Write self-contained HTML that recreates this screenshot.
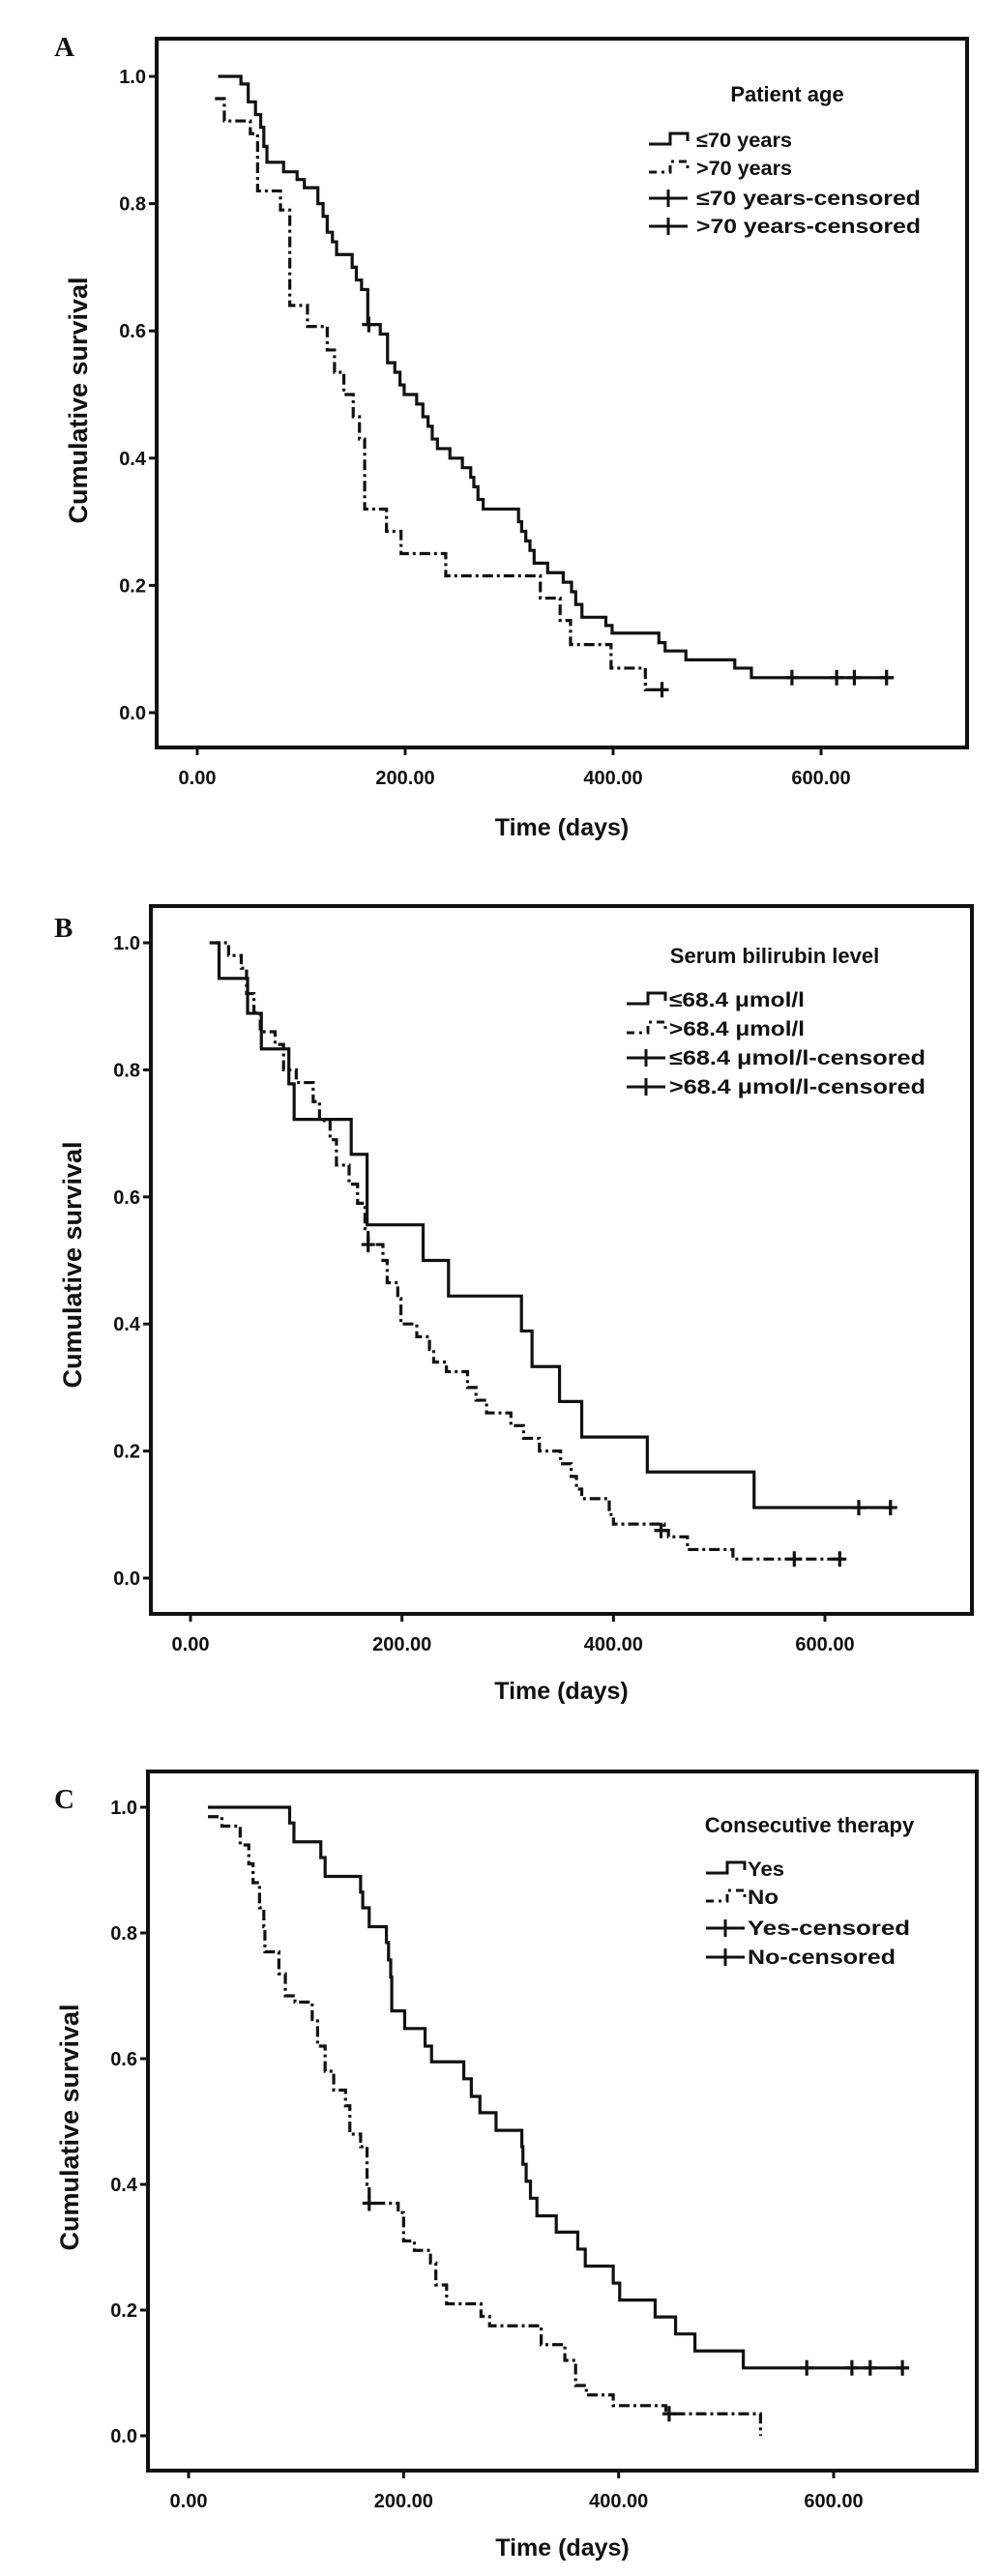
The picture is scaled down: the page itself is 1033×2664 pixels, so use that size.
<!DOCTYPE html>
<html><head><meta charset="utf-8"><style>
html,body{margin:0;padding:0;background:#fff;}
svg{display:block;}
text{font-family:"Liberation Sans",sans-serif;font-weight:bold;fill:#111;}
.letter{font-family:"Liberation Serif",serif;font-size:29px;}
</style></head><body>
<svg id="fig" width="1033" height="2664" viewBox="0 0 1033 2664" xmlns="http://www.w3.org/2000/svg"></svg>
<script>
// Panel A data
const aSolidTimes=[20,42,49,56,61,64,67,83,96,103,116,121,125,130,134,149,153,158,164,176,183,190,195,199,211,217,222,226,231,243,255,263,266,270,275,309,312,316,320,324,337,352,360,364,370,393,399,444,450,470,517,533,670];
const aSolidSurv=[1.0,0.988,0.96,0.94,0.92,0.89,0.865,0.85,0.838,0.825,0.80,0.78,0.755,0.74,0.72,0.70,0.68,0.665,0.61,0.595,0.55,0.535,0.515,0.50,0.485,0.465,0.45,0.43,0.415,0.40,0.385,0.37,0.355,0.335,0.32,0.30,0.285,0.27,0.255,0.235,0.22,0.205,0.19,0.17,0.15,0.137,0.125,0.11,0.097,0.083,0.07,0.055,0.055];
const aSolidCensT=[165,572,615,632,663];
const aSolidCensS=[0.61,0.055,0.055,0.055,0.055];
const aDashTimes=[17,26,51,58,80,89,106,125,132,141,150,156,161,182,196,239,330,349,359,398,431,447];
const aDashSurv=[0.965,0.93,0.91,0.82,0.79,0.64,0.607,0.57,0.535,0.50,0.465,0.43,0.32,0.285,0.25,0.215,0.18,0.145,0.107,0.07,0.036,0.036];
const aDashCensT=[447];
const aDashCensS=[0.036];
// Panel B data
const bSolidTimes=[24,27,54,67,93,98,152,167,220,244,313,323,349,370,432,533,664];
const bSolidSurv=[1.0,0.944,0.889,0.833,0.778,0.722,0.667,0.556,0.50,0.444,0.389,0.333,0.278,0.222,0.167,0.111,0.111];
const bSolidCensT=[632,662];
const bSolidCensS=[0.111,0.111];
const bDashTimes=[18,36,48,53,60,66,80,88,100,116,122,132,138,150,158,165,168,182,186,196,199,214,226,230,242,262,270,280,303,315,330,350,360,365,370,396,400,448,452,470,513,618];
const bDashSurv=[1.0,0.98,0.96,0.92,0.89,0.86,0.84,0.80,0.78,0.75,0.72,0.69,0.65,0.62,0.59,0.55,0.525,0.50,0.465,0.44,0.40,0.38,0.36,0.34,0.325,0.30,0.28,0.26,0.24,0.22,0.20,0.18,0.16,0.14,0.125,0.10,0.085,0.075,0.065,0.045,0.03,0.03];
const bDashCensT=[168,445,571,614];
const bDashCensS=[0.525,0.075,0.03,0.03];
// Panel C data
const cSolidTimes=[18,94,98,123,127,160,162,168,184,186,188,189,201,220,226,256,263,271,286,310,311,314,318,324,342,362,369,395,401,434,453,471,516,670];
const cSolidSurv=[1.0,0.975,0.945,0.92,0.89,0.865,0.84,0.81,0.785,0.757,0.73,0.676,0.648,0.62,0.595,0.568,0.54,0.514,0.486,0.46,0.432,0.405,0.378,0.35,0.324,0.297,0.27,0.243,0.216,0.189,0.162,0.135,0.108,0.108];
const cSolidCensT=[575,617,634,664];
const cSolidCensS=[0.108,0.108,0.108,0.108];
const cDashTimes=[18,31,48,56,60,66,70,71,84,90,99,115,120,127,135,146,150,160,166,168,195,200,210,225,230,240,272,280,328,350,360,370,395,444,532,532];
const cDashSurv=[0.985,0.97,0.94,0.91,0.88,0.84,0.81,0.77,0.735,0.70,0.69,0.66,0.62,0.58,0.55,0.525,0.48,0.46,0.40,0.37,0.355,0.31,0.295,0.275,0.24,0.21,0.19,0.175,0.145,0.12,0.08,0.065,0.048,0.035,0.035,0.0];
const cDashCensT=[168,447];
const cDashCensS=[0.37,0.035];
// Axis ticks
const xTicks=[0,200,400,600];
const xTickLabels=["0.00","200.00","400.00","600.00"];
const yTicks=[0,0.2,0.4,0.6,0.8,1.0];
const yTickLabels=["0.0","0.2","0.4","0.6","0.8","1.0"];
// Legends
const legendA=["≤70 years",">70 years","≤70 years-censored",">70 years-censored"];
const legendB=["≤68.4 μmol/l",">68.4 μmol/l","≤68.4 μmol/l-censored",">68.4 μmol/l-censored"];
const legendC=["Yes","No","Yes-censored","No-censored"];

const NS="http://www.w3.org/2000/svg";
const svg=document.getElementById('fig');
function mk(tag,attrs,parent){const e=document.createElementNS(NS,tag);for(const k in attrs)e.setAttribute(k,attrs[k]);(parent||svg).appendChild(e);return e;}

const panels=[
 {id:'a',letter:'A',lx:56,ly:58,box:[162,40,1000,773],x0:204,x600:849,y1:79,y0:737,
  solidT:aSolidTimes,solidS:aSolidSurv,solidCT:aSolidCensT,solidCS:aSolidCensS,dashT:aDashTimes,dashS:aDashSurv,dashCT:aDashCensT,dashCS:aDashCensS,
  title:'Patient age',tx:814,ty:105,legend:legendA,symX:671,textX:720,rows:[145,174,205,234],textW:[99,99,232,232],ytitleY:414,xtitleY:864},
 {id:'b',letter:'B',lx:56,ly:969,box:[156,937,1005,1669],x0:197,x600:853,y1:975,y0:1632,
  solidT:bSolidTimes,solidS:bSolidSurv,solidCT:bSolidCensT,solidCS:bSolidCensS,dashT:bDashTimes,dashS:bDashSurv,dashCT:bDashCensT,dashCS:bDashCensS,
  title:'Serum bilirubin level',tx:801,ty:996,legend:legendB,symX:648,textX:692,rows:[1034,1064,1094,1124],textW:[140,140,265,265],ytitleY:1308,xtitleY:1757},
 {id:'c',letter:'C',lx:56,ly:1870,box:[153,1832,1010,2555],x0:195,x600:862,y1:1869,y0:2519,
  solidT:cSolidTimes,solidS:cSolidSurv,solidCT:cSolidCensT,solidCS:cSolidCensS,dashT:cDashTimes,dashS:cDashSurv,dashCT:cDashCensT,dashCS:cDashCensS,
  title:'Consecutive therapy',tx:837,ty:1895,legend:legendC,symX:730,textX:773,rows:[1933,1962,1994,2024],textW:[38,32,168,153],ytitleY:2200,xtitleY:2643}
];

panels.forEach(p=>{
  const g=mk('g',{});
  
  
  const xs=v=>p.x0+(v/600)*(p.x600-p.x0);
  const ys=v=>p.y0-(v)*(p.y0-p.y1);
  const L=mk('text',{x:p.lx,y:p.ly,class:'letter'},g);L.textContent=p.letter;
  
  
  const [bx1,by1,bx2,by2]=p.box;
  const r=mk('rect',{x:bx1,y:by1,width:bx2-bx1,height:by2-by1,fill:'none',stroke:'#111','stroke-width':4},g);
  
  
  yTicks.forEach((v,i)=>{
    const y=ys(v);
    mk('line',{x1:bx1-8,x2:bx1,y1:y,y2:y,stroke:'#111','stroke-width':3},g);
    const t=mk('text',{x:bx1-11,y:y+7,'text-anchor':'end','font-size':20},g);t.textContent=yTickLabels[i];
    
    
  });
  xTicks.forEach((v,i)=>{
    const x=xs(v);
    mk('line',{x1:x,x2:x,y1:by2,y2:by2+8,stroke:'#111','stroke-width':3},g);
    const t=mk('text',{x:x,y:by2+38,'text-anchor':'middle','font-size':20},g);t.textContent=xTickLabels[i];
    
    
  });
  const yt=mk('text',{x:0,y:0,'text-anchor':'middle','font-size':27,transform:`translate(${bx1-72},${p.ytitleY}) rotate(-90)`},g);
  yt.textContent='Cumulative survival';
  
  
  const xt=mk('text',{x:(bx1+bx2)/2,y:p.xtitleY,'text-anchor':'middle','font-size':25},g);
  xt.textContent='Time (days)';
  
  
  function stepPath(T,S){
    let d=`M${xs(T[0])},${ys(S[0])}`;
    for(let i=1;i<T.length;i++){d+=` H${xs(T[i])} V${ys(S[i])}`;}
    return d;
  }
  const sp=mk('path',{d:stepPath(p.solidT,p.solidS),fill:'none',stroke:'#111','stroke-width':3.2},g);
  
  
  const dp=mk('path',{d:stepPath(p.dashT,p.dashS),fill:'none',stroke:'#111','stroke-width':3.2,'stroke-dasharray':'11 4 3 4'},g);
  
  
  function cens(T,S,name){
    T.forEach((t,i)=>{
      const x=xs(t),y=ys(S[i]);
      const c=mk('path',{d:`M${x-7},${y} H${x+7} M${x},${y-8} V${y+8}`,stroke:'#111','stroke-width':3.2,fill:'none'},g);
      
      
    });
  }
  cens(p.solidCT,p.solidCS,'censored-mark-group1');
  cens(p.dashCT,p.dashCS,'censored-mark-group2');
  const lt=mk('text',{x:p.tx,y:p.ty,'text-anchor':'middle','font-size':22},g);lt.textContent=p.title;
  
  
  p.legend.forEach((lab,i)=>{
    const y=p.rows[i];const sx=p.symX;
    let sym;
    if(i===0) sym=mk('path',{d:`M${sx},${y+4} H${sx+22} V${y-7} H${sx+40} V${y+1}`,fill:'none',stroke:'#111','stroke-width':3},g);
    else if(i===1) sym=mk('path',{d:`M${sx},${y+4} H${sx+22} V${y-7} H${sx+40} V${y+1}`,fill:'none',stroke:'#111','stroke-width':3,'stroke-dasharray':'8 5 3 5'},g);
    else sym=mk('path',{d:`M${sx},${y} H${sx+40} M${sx+20},${y-9} V${y+9}`,fill:'none',stroke:'#111','stroke-width':3},g);
    
    
    const t=mk('text',{x:p.textX,y:y+7,'font-size':21,textLength:p.textW[i],lengthAdjust:'spacingAndGlyphs'},g);
    t.textContent=lab;
    
    
  });
});
</script>
</body></html>
